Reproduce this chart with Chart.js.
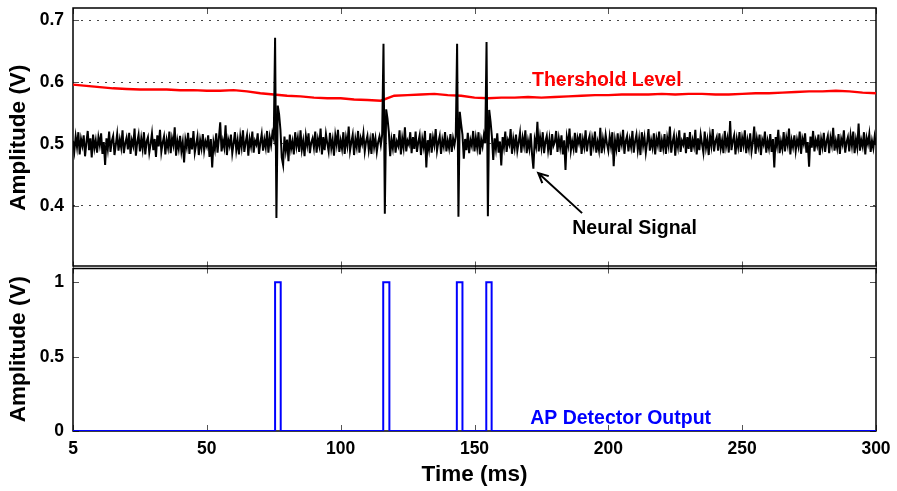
<!DOCTYPE html>
<html>
<head>
<meta charset="utf-8">
<script src="https://cdn.jsdelivr.net/npm/chart.js@4.4.1/dist/chart.umd.min.js"></script>
<style>
  html, body { margin: 0; padding: 0; background: #fff; }
  canvas { display: block; }
</style>
</head>
<body>
<canvas id="ap-chart" width="897" height="491"></canvas>
<script>
// neural recording, one sample every 0.5 ms from t = 0, in mV
const sampleStep = 0.5
const neuralMv = [
  505,488,512,495,519,483,508,497,514,480,502,521,490,509,478,515,493,506,486,511,
  498,517,484,503,466,509,492,520,487,505,513,482,499,516,489,507,494,522,485,501,
  510,491,518,484,506,497,525,481,503,515,488,509,492,519,483,504,511,486,500,517,
  490,508,479,514,496,523,487,502,512,483,506,494,520,485,509,498,527,481,505,492,
  513,488,503,470,507,495,518,484,510,491,521,486,499,512,482,506,493,516,489,504,
  496,514,479,508,462,503,491,517,486,509,535,488,505,494,530,482,507,497,515,485,
  501,519,490,506,483,512,495,522,487,503,514,481,508,496,520,486,505,499,517,484,
  502,516,489,507,494,521,486,511,498,518,509,672,380,562,548,523,478,466,512,489,
  507,472,515,492,504,483,519,496,510,487,522,491,505,480,513,498,517,485,502,509,
  494,520,486,508,497,525,483,511,490,516,501,488,518,493,507,481,514,499,523,487,
  505,492,519,484,510,497,528,489,503,515,482,508,495,521,486,509,500,517,488,504,
  513,490,506,484,517,495,509,487,503,512,498,515,662,387,556,541,519,480,507,493,
  516,486,504,497,522,483,509,494,527,488,505,499,519,485,511,492,520,487,503,514,
  482,508,495,521,462,506,491,517,486,510,498,524,489,503,513,484,507,496,519,488,
  505,493,516,487,509,498,512,662,382,552,532,515,476,508,490,518,485,506,497,521,
  488,510,494,519,483,507,496,514,501,665,383,555,536,512,474,509,492,517,486,504,
  465,511,495,520,487,506,499,524,484,508,493,515,489,503,518,486,510,497,522,485,
  505,492,517,483,460,507,496,536,488,511,494,519,485,504,513,490,508,482,516,497,
  503,521,487,509,494,514,483,506,458,511,498,525,489,504,492,518,486,510,501,517,
  484,507,495,522,488,505,513,481,509,497,520,486,503,490,526,485,508,494,515,500,
  489,512,496,519,464,506,492,517,487,510,499,523,484,505,513,488,507,495,521,486,
  504,515,490,508,482,519,497,511,486,503,524,489,506,494,517,483,509,498,520,487,
  506,493,516,484,510,497,528,486,503,514,481,508,495,522,487,505,499,518,485,511,
  492,519,487,506,496,523,483,509,490,515,500,486,520,494,507,482,513,497,524,488,
  504,511,489,517,493,506,485,521,496,509,486,537,490,505,514,483,508,495,519,487,
  510,498,522,485,506,493,517,488,503,528,484,509,496,515,482,507,499,520,486,505,
  493,516,487,508,462,511,497,523,485,504,492,519,488,510,498,525,483,506,495,514,
  489,507,496,520,484,509,500,517,486,503,463,512,494,521,488,506,497,515,482,508,
  495,518,487,504,513,485,510,498,526,489,505,493,516,484,508,499,522,486,503,511,
  488,514,497,520,485,507,494,533,489,506,496,519,483,510,500,516,487,505,493,512,
  498
]

// adaptive threshold, one value every 5 ms, in mV
const thresholdStep = 5
const thresholdMv = [
  596,594,592,590,589,588,588,588,587,587,586,586,587,585,582,580,578,577,575,574,
  574,572,571,570,578,579,580,581,579,578,575,574,575,575,576,575,576,577,578,579,
  579,580,580,580,581,580,581,581,580,580,581,582,582,583,584,585,585,586,585,583,
  582
]

// detector output pulses (ms)
const pulseOn = [75.5, 115.9, 143.4, 154.4]
const pulseOff = [77.6, 118.2, 145.5, 156.4]

const timeTicks = [0, 50, 100, 150, 200, 250, 300]
const timeTickLabels = ['5', '50', '100', '150', '200', '250', '300']
const signalTicks = [0.4, 0.5, 0.6, 0.7]
const detectorTicks = [0, 0.5, 1]

const FONT = '"Liberation Sans", Arial, Helvetica, sans-serif'

const neuralPoints = neuralMv.map((v, i) => ({ x: i * sampleStep, y: v / 1000 }))
const thresholdPoints = thresholdMv.map((v, i) => ({ x: i * thresholdStep, y: v / 1000 }))

const detectorPoints = [{ x: 0, y: 0 }]
pulseOn.forEach((t, i) => {
  detectorPoints.push({ x: t, y: 0 }, { x: t, y: 1 }, { x: pulseOff[i], y: 1 }, { x: pulseOff[i], y: 0 })
})
detectorPoints.push({ x: 300, y: 0 })

const setTicks = list => scale => { scale.ticks = list.map(v => ({ value: v })) }

// boxes + inward tick marks, drawn under the data
const framePlugin = {
  id: 'frame',
  beforeDatasetsDraw (chart) {
    const ctx = chart.ctx
    const { left, right } = chart.chartArea
    const x = chart.scales.x
    const panels = [chart.scales.ySig, chart.scales.yDet]
    ctx.save()
    ctx.strokeStyle = '#555'
    ctx.lineWidth = 1
    panels.forEach(s => {
      const ticks = s.id === 'ySig' ? signalTicks : detectorTicks
      ticks.forEach(v => {
        const py = Math.round(s.getPixelForValue(v)) + 0.5
        ctx.beginPath()
        ctx.moveTo(left, py); ctx.lineTo(left + 6, py)
        ctx.moveTo(right, py); ctx.lineTo(right - 6, py)
        ctx.stroke()
      })
      timeTicks.forEach(v => {
        const px = Math.round(x.getPixelForValue(v)) + 0.5
        ctx.beginPath()
        ctx.moveTo(px, s.top); ctx.lineTo(px, s.top + 6)
        ctx.moveTo(px, s.bottom); ctx.lineTo(px, s.bottom - 6)
        ctx.stroke()
      })
    })
    ctx.strokeStyle = '#000'
    ctx.lineWidth = 1.5
    const sig = chart.scales.ySig
    const det = chart.scales.yDet
    ctx.strokeRect(left, sig.top, right - left, sig.bottom - sig.top - 1.5)
    ctx.strokeRect(left, det.top + 1, right - left, det.bottom - det.top - 1)
    ctx.restore()
  },
  afterDraw (chart) {
    const ctx = chart.ctx
    const x = chart.scales.x
    const sig = chart.scales.ySig
    const det = chart.scales.yDet
    ctx.save()
    ctx.font = 'bold 19.5px ' + FONT
    ctx.textBaseline = 'middle'
    ctx.textAlign = 'left'
    ctx.fillStyle = '#ff0000'
    ctx.fillText('Thershold Level', x.getPixelForValue(171.5), sig.getPixelForValue(0.602))
    ctx.fillStyle = '#000'
    ctx.fillText('Neural Signal', x.getPixelForValue(186.5), sig.getPixelForValue(0.363))
    ctx.fillStyle = '#0000ff'
    ctx.fillText('AP Detector Output', x.getPixelForValue(170.8), det.getPixelForValue(0.083))

    // arrow towards the neural trace
    const x1 = x.getPixelForValue(190.2), y1 = sig.getPixelForValue(0.388)
    const x2 = x.getPixelForValue(173.8), y2 = sig.getPixelForValue(0.453)
    const ang = Math.atan2(y2 - y1, x2 - x1)
    ctx.strokeStyle = '#000'
    ctx.lineWidth = 2
    ctx.beginPath()
    ctx.moveTo(x1, y1); ctx.lineTo(x2, y2)
    ctx.moveTo(x2 - 11 * Math.cos(ang - 0.45), y2 - 11 * Math.sin(ang - 0.45))
    ctx.lineTo(x2, y2)
    ctx.lineTo(x2 - 11 * Math.cos(ang + 0.45), y2 - 11 * Math.sin(ang + 0.45))
    ctx.stroke()
    ctx.restore()
  }
}

const tickFont = { family: FONT, size: 17.5, weight: 'bold' }
const titleFont = { family: FONT, size: 22.5, weight: 'bold' }

new Chart(document.getElementById('ap-chart').getContext('2d'), {
  type: 'line',
  data: {
    datasets: [
      {
        label: 'Neural Signal',
        data: neuralPoints,
        yAxisID: 'ySig',
        borderColor: '#000',
        borderWidth: 2,
        pointRadius: 0,
        tension: 0
      },
      {
        label: 'Thershold Level',
        data: thresholdPoints,
        yAxisID: 'ySig',
        borderColor: '#ff0000',
        borderWidth: 2.4,
        pointRadius: 0,
        tension: 0
      },
      {
        label: 'AP Detector Output',
        data: detectorPoints,
        yAxisID: 'yDet',
        borderColor: '#0000ff',
        borderWidth: 2,
        pointRadius: 0,
        tension: 0
      }
    ]
  },
  options: {
    responsive: false,
    animation: false,
    layout: { padding: { top: 8, right: 21, left: 0, bottom: 0 } },
    plugins: {
      legend: { display: false },
      tooltip: { enabled: false }
    },
    scales: {
      x: {
        type: 'linear',
        min: 0,
        max: 300,
        afterBuildTicks: setTicks(timeTicks),
        afterFit: s => { s.height = 60; s.paddingLeft = 0; s.paddingRight = 0 },
        grid: { display: false, drawTicks: false },
        border: { display: false },
        ticks: {
          autoSkip: false,
          maxRotation: 0,
          padding: 8,
          color: '#000',
          font: tickFont,
          callback: (v, i) => timeTickLabels[i]
        },
        title: { display: true, text: 'Time (ms)', color: '#000', font: titleFont, padding: { top: 0, bottom: 3 } }
      },
      yDet: {
        type: 'linear',
        position: 'left',
        stack: 'amp',
        stackWeight: 163.5,
        min: 0,
        max: 1.1,
        afterBuildTicks: setTicks(detectorTicks),
        afterFit: s => { s.width = 73; s.paddingTop = 0; s.paddingBottom = 0 },
        grid: { display: false, drawTicks: false },
        border: { display: false },
        ticks: { padding: 9, color: '#000', font: tickFont, callback: v => String(v) },
        title: { display: true, text: 'Amplitude (V)', color: '#000', font: titleFont, padding: { top: 5, bottom: 4 } }
      },
      ySig: {
        type: 'linear',
        position: 'left',
        stack: 'amp',
        stackWeight: 259.5,
        min: 0.3,
        max: 0.72,
        afterBuildTicks: setTicks(signalTicks),
        afterFit: s => { s.width = 73; s.paddingTop = 0; s.paddingBottom = 0 },
        grid: { display: true, drawTicks: false, color: '#444', lineWidth: 1 },
        border: { display: false, dash: [2, 6] },
        ticks: { padding: 9, color: '#000', font: tickFont, callback: v => v.toFixed(1) },
        title: { display: true, text: 'Amplitude (V)', color: '#000', font: titleFont, padding: { top: 5, bottom: 4 } }
      }
    }
  },
  plugins: [framePlugin]
})
</script>
</body>
</html>
